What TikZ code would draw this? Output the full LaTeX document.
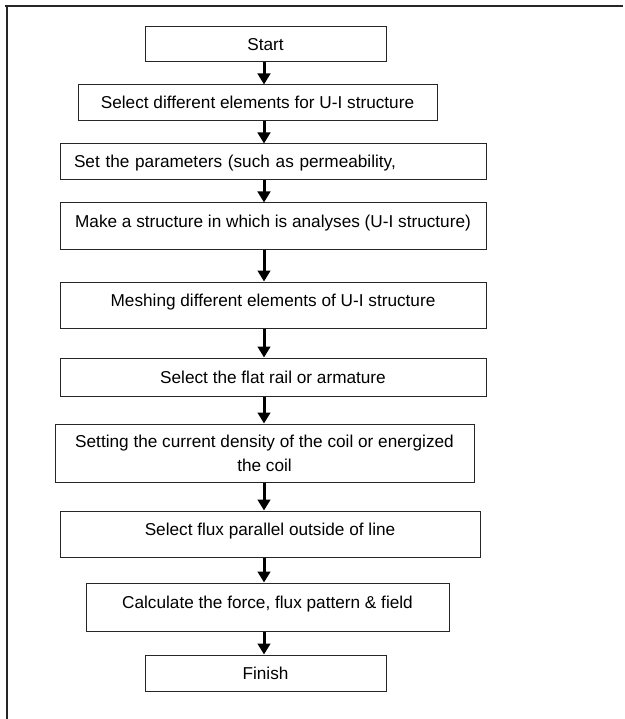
\documentclass[tikz,border=0pt]{standalone}
\usepackage{fontspec}
\setmainfont{Liberation Sans}
\usetikzlibrary{arrows.meta}
\tikzset{
  flowarrow/.style={-{Triangle[length=11pt,width=12.5pt]}, line width=3pt},
  stepbox/.style={draw=black!85, line width=1pt, minimum height=36pt, align=center,
    inner sep=0pt, text height=14pt, text depth=2pt},
  stepboxhi/.style={stepbox, text height=12pt, text depth=9pt},
  twolinebox/.style={draw=black!85, line width=1pt, align=center, inner sep=0pt},
  framerule/.style={line width=1.6pt, black!85}
}

\begin{document}
\begin{tikzpicture}[x=1pt, y=-1pt, every node/.style={font=\fontsize{17.2}{24}\selectfont}]
  \useasboundingbox (0,0) rectangle (624,719);
  % page frame
  \draw[framerule] (5,6) -- (623,6);
  \draw[framerule] (7,6) -- (7,719);

  \coordinate (axis) at (264,0);

  \node[stepbox, minimum width=241pt, minimum height=35pt] (start) at (265.5,44.5) {Start};
  \node[stepbox, minimum width=359pt] (elements) at (257.5,103) {Select different elements for U-I structure};
  \node[stepbox, minimum width=426pt, text width=398pt, align=left] (params) at (273,162) {Set the parameters (such as permeability,};
  \node[stepboxhi, minimum width=426pt, minimum height=46pt] (structure) at (273,226) {Make a structure in which is analyses (U-I structure)};
  \node[stepboxhi, minimum width=426pt, minimum height=46pt] (mesh) at (273,305) {Meshing different elements of U-I structure};
  \node[stepbox, minimum width=426pt, minimum height=38pt] (rail) at (273,377) {Select the flat rail or armature};
  \node[twolinebox, minimum width=419pt, minimum height=58pt] (coil) at (264.5,453) {Setting the current density of the coil or energized\\the coil};
  \node[stepboxhi, minimum width=420pt, minimum height=46pt] (flux) at (270,534) {Select flux parallel outside of line};
  \node[stepboxhi, minimum width=363pt, minimum height=48pt] (force) at (267.5,607) {Calculate the force, flux pattern \& field};
  \node[stepbox, minimum width=241pt] (finish) at (265.5,673) {Finish};

  \draw[flowarrow] (start.south -| axis) -- (elements.north -| axis);
  \draw[flowarrow] (elements.south -| axis) -- (params.north -| axis);
  \draw[flowarrow] (params.south -| axis) -- (structure.north -| axis);
  \draw[flowarrow] (structure.south -| axis) -- (mesh.north -| axis);
  \draw[flowarrow] (mesh.south -| axis) -- (rail.north -| axis);
  \draw[flowarrow] (rail.south -| axis) -- (coil.north -| axis);
  \draw[flowarrow] (coil.south -| axis) -- (flux.north -| axis);
  \draw[flowarrow] (flux.south -| axis) -- (force.north -| axis);
  \draw[flowarrow] (force.south -| axis) -- (finish.north -| axis);
\end{tikzpicture}
\end{document}
